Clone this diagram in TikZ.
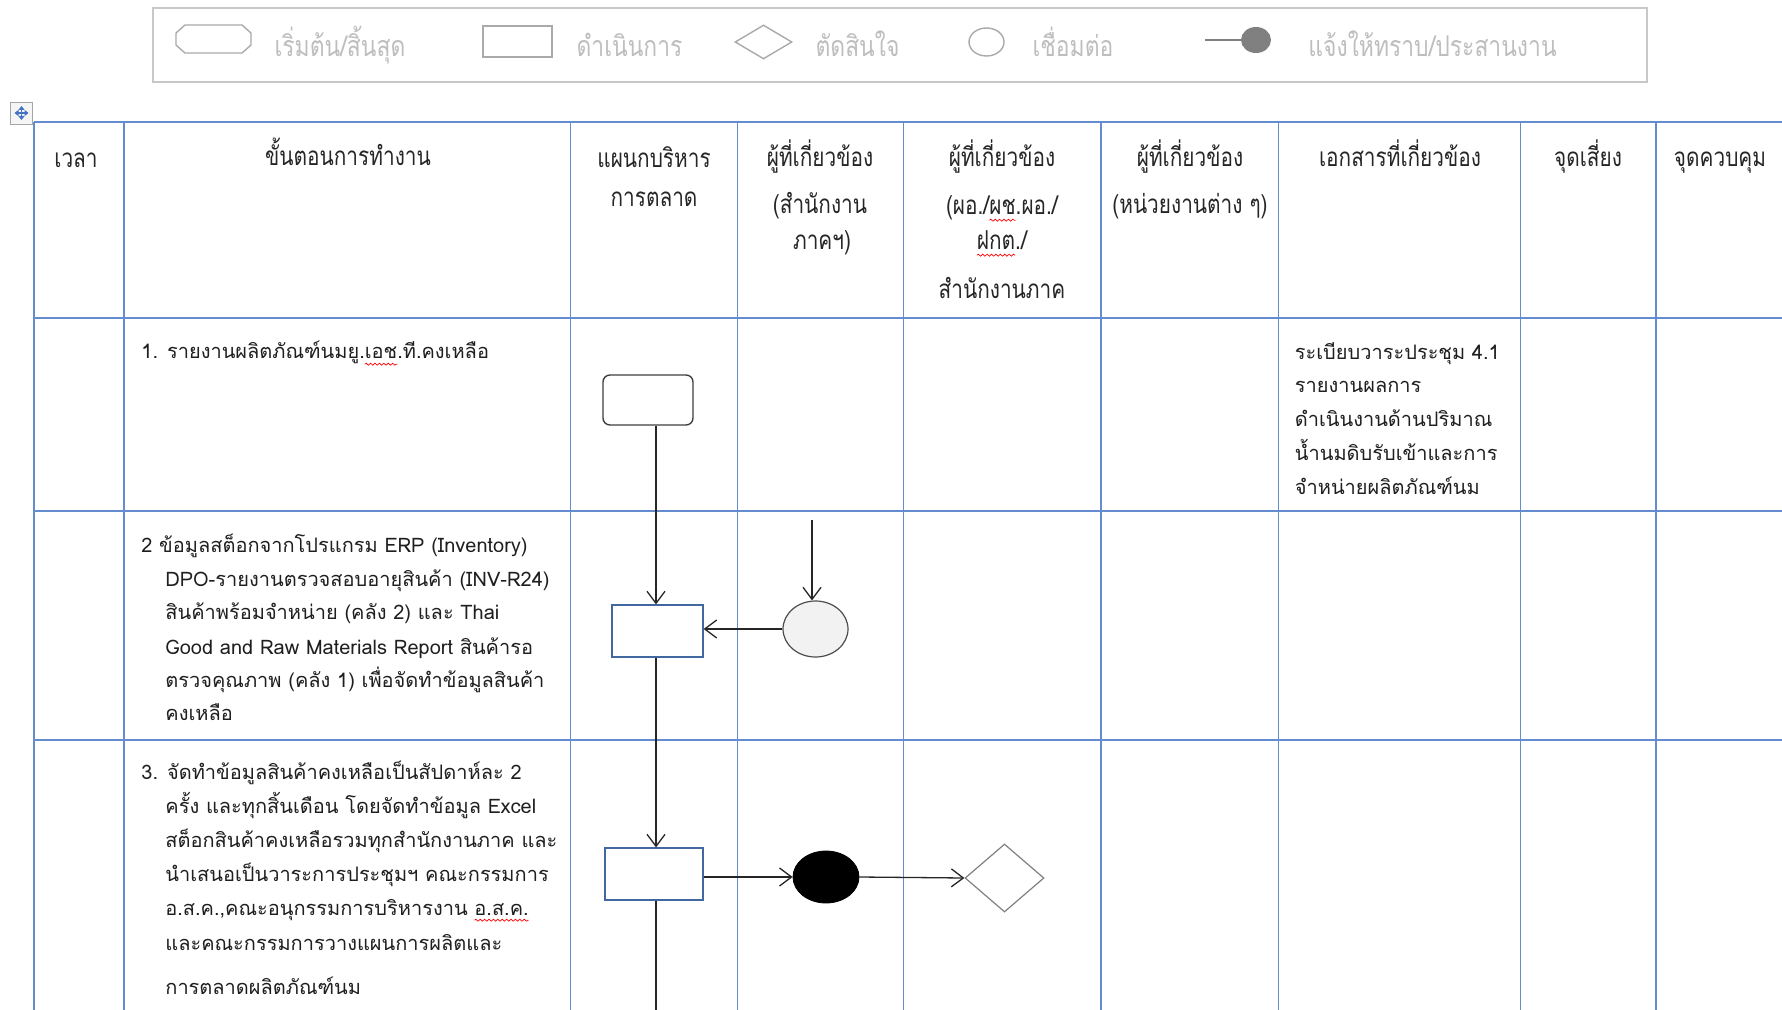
\documentclass[tikz,border=0pt]{standalone}
\usepackage{fontspec}
\usetikzlibrary{arrows.meta,shapes.geometric,decorations.pathmorphing}
\newfontfamily\thaibody[Script=Thai]{Loma}
\newfontfamily\thaihead[Script=Thai,FakeStretch=0.8]{Loma}
\definecolor{tblue}{RGB}{100,141,208}
\definecolor{boxblue}{RGB}{65,105,160}
\definecolor{legfg}{RGB}{190,190,190}
\definecolor{legline}{RGB}{200,200,200}
\definecolor{legshp}{RGB}{170,170,170}
\definecolor{iconblue}{RGB}{68,114,196}
\newsavebox\sqbox
\newcommand\squig[1]{\sbox\sqbox{#1}\usebox\sqbox\tikz[overlay,baseline=0pt,x=1pt,y=1pt]\draw[red,line width=0.35pt,decorate,decoration={snake,amplitude=0.5pt,segment length=2.2pt}] (-\wd\sqbox,-2.6pt) -- (0,-2.6pt);}
\begin{document}
\begin{tikzpicture}[x=0.5pt,y=-0.5pt,
  tline/.style={draw=tblue,line width=0.8pt},
  conn/.style={draw=black!85,line width=0.65pt},
  arr/.style={conn,-{Straight Barb[length=6pt,width=9pt]}},
  head/.style={font=\thaihead\fontsize{13}{15}\selectfont,anchor=base,inner sep=0pt,text=black!85},
  body/.style={font=\thaibody\fontsize{10}{12}\selectfont,anchor=base west,inner sep=0pt,text=black!88},
  legtext/.style={font=\thaihead\fontsize{14.3}{16}\selectfont,anchor=base,inner sep=0pt,text=legfg},
  legshape/.style={draw=legshp,line width=0.7pt,inner sep=0pt},
  startbox/.style={draw=black!75,line width=0.7pt,rounded corners=3.5pt,minimum width=45pt,minimum height=25pt,inner sep=0pt},
  procbox/.style={draw=boxblue,line width=0.6pt,minimum height=26pt,inner sep=0pt},
  movearr/.style={draw=iconblue,line width=0.6pt,{Triangle[length=2pt,width=3pt]}-{Triangle[length=2pt,width=3pt]}}
]
\useasboundingbox (0,0) rectangle (1782,1010);
\fill[white] (0,0) rectangle (1782,1010);

% ---------------- legend ----------------
\draw[draw=legline,line width=1pt] (153,8) rectangle (1647,82);
\draw[legshape] (185,25) -- (242,25) -- (251,33) -- (251,45) -- (242,53) -- (185,53) -- (176,45) -- (176,33) -- cycle;
\node[legtext] (lt1) at (340,57) {เริ่มต้น/สิ้นสุด};
\node[legshape,rectangle,minimum width=34.5pt,minimum height=15.5pt] (lrect) at (517.5,41.5) {};
\node[legtext] (lt2) at (629.5,57) {ดำเนินการ};
\node[legshape,diamond,minimum width=28.5pt,minimum height=17pt] (ldia) at (763.5,42) {};
\node[legtext] (lt3) at (857.5,57) {ตัดสินใจ};
\node[legshape,ellipse,minimum width=17.5pt,minimum height=14pt] (lcirc) at (986.5,42) {};
\node[legtext] (lt4) at (1073,57) {เชื่อมต่อ};
\node[ellipse,fill=black!50,inner sep=0pt,minimum width=15pt,minimum height=13pt] (ldot) at (1256,40) {};
\coordinate (lline) at (1205,40);
\draw[draw=black!50,line width=0.8pt] (lline) -- (ldot.west);
\node[legtext] (lt5) at (1432.5,57) {แจ้งให้ทราบ/ประสานงาน};

% ---------------- move icon ----------------
\node[draw=black!35,fill=black!4,minimum size=11pt,inner sep=0pt] (mv) at (21.5,113) {};
\draw[movearr] (14.5,113) -- (28.5,113);
\draw[movearr] (21.5,106) -- (21.5,120);

% ---------------- table ----------------
\foreach \yy in {122,318,511,740} \draw[tline] (34,\yy) -- (1782,\yy);
\foreach \xx in {34,124,570.5,737.5,903.5,1101,1278.5,1520.5,1656} \draw[tline] (\xx,122) -- (\xx,1010);

% header
\node[head] (h1) at (76,168) {เวลา};
\node[head] (h2) at (348,166) {ขั้นตอนการทำงาน};
\node[head] (h3a) at (654,168) {แผนกบริหาร};
\node[head] (h3b) at (654,207) {การตลาด};
\node[head] (h4a) at (820,167) {ผู้ที่เกี่ยวข้อง};
\node[head] (h4b) at (820,214) {(สำนักงาน};
\node[head] (h4c) at (822,250) {ภาคฯ)};
\node[head] (h5a) at (1002,167) {ผู้ที่เกี่ยวข้อง};
\node[head] (h5b) at (1002,215) {(ผอ./\squig{ผช}.ผอ./};
\node[head] (h5c) at (1002,250) {\squig{ฝกต}./};
\node[head] (h5d) at (1002,299) {สำนักงานภาค};
\node[head] (h6a) at (1190,167) {ผู้ที่เกี่ยวข้อง};
\node[head] (h6b) at (1190,214) {(หน่วยงานต่าง ๆ)};
\node[head] (h7) at (1400,167) {เอกสารที่เกี่ยวข้อง};
\node[head] (h8) at (1588,167) {จุดเสี่ยง};
\node[head] (h9) at (1720,167) {จุดควบคุม};

% row 1
\node[body] (t1) at (141,359) {1. รายงานผลิตภัณฑ์นมยู.\squig{เอช}.ที.คงเหลือ};
\foreach [count=\i] \yy/\txt in {360/{ระเบียบวาระประชุม 4.1},393/{รายงานผลการ},427/{ดำเนินงานด้านปริมาณ},460/{น้ำนมดิบรับเข้าและการ},494/{จำหน่ายผลิตภัณฑ์นม}}
  \node[body] (doc\i) at (1294.5,\yy) {\txt};

% row 2
\node[body] (t2) at (141,552) {2 ข้อมูลสต็อกจากโปรแกรม ERP (Inventory)};
\foreach [count=\i] \yy/\txt in {586/{DPO-รายงานตรวจสอบอายุสินค้า (INV-R24)},619/{สินค้าพร้อมจำหน่าย (คลัง 2) และ Thai},654/{Good and Raw Materials Report สินค้ารอ},687/{ตรวจคุณภาพ (คลัง 1) เพื่อจัดทำข้อมูลสินค้า},720/{คงเหลือ}}
  \node[body] (t2l\i) at (165,\yy) {\txt};

% row 3
\node[body] (t3) at (141,779) {3. จัดทำข้อมูลสินค้าคงเหลือเป็นสัปดาห์ละ 2};
\foreach [count=\i] \yy/\txt in {813/{ครั้ง และทุกสิ้นเดือน โดยจัดทำข้อมูล Excel},847/{สต็อกสินค้าคงเหลือรวมทุกสำนักงานภาค และ},881/{นำเสนอเป็นวาระการประชุมฯ คณะกรรมการ},915/{อ.ส.ค.,คณะอนุกรรมการบริหารงาน \squig{อ.ส.ค.}},950/{และคณะกรรมการวางแผนการผลิตและ},994/{การตลาดผลิตภัณฑ์นม}}
  \node[body] (t3l\i) at (165,\yy) {\txt};

% ---------------- flow shapes ----------------
\coordinate (spine) at (656,0);
\node[startbox] (s1) at (648,400) {};
\node[procbox,minimum width=45.5pt] (p2) at (657.5,631) {};
\node[ellipse,draw=black!70,fill=black!5,line width=0.6pt,inner sep=0pt,minimum width=32.5pt,minimum height=28pt] (c2) at (815.5,629) {};
\coordinate (c2in) at (812,520);
\node[procbox,minimum width=49pt] (p3) at (654,874) {};
\node[ellipse,draw=black,fill=black,inner sep=0pt,minimum width=33pt,minimum height=26pt] (e3) at (826,877) {};
\node[diamond,draw=black!50,fill=white,line width=0.6pt,inner sep=0pt,minimum width=39.5pt,minimum height=34pt] (d3) at (1004.5,878) {};
\coordinate (spineend) at (656,1010);

\draw[arr] (s1.south -| spine) -- (p2.north -| spine);
\draw[arr] (c2in) -- (c2in |- c2.north);
\draw[arr] (c2.west) -- (c2.west -| p2.east);
\draw[arr] (p2.south -| spine) -- (p3.north -| spine);
\draw[arr] (p3.east |- e3.west) -- (e3.west);
\draw[arr] (e3.east) -- (d3.west);
\draw[conn] (p3.south -| spine) -- (spineend);
\end{tikzpicture}
\end{document}
